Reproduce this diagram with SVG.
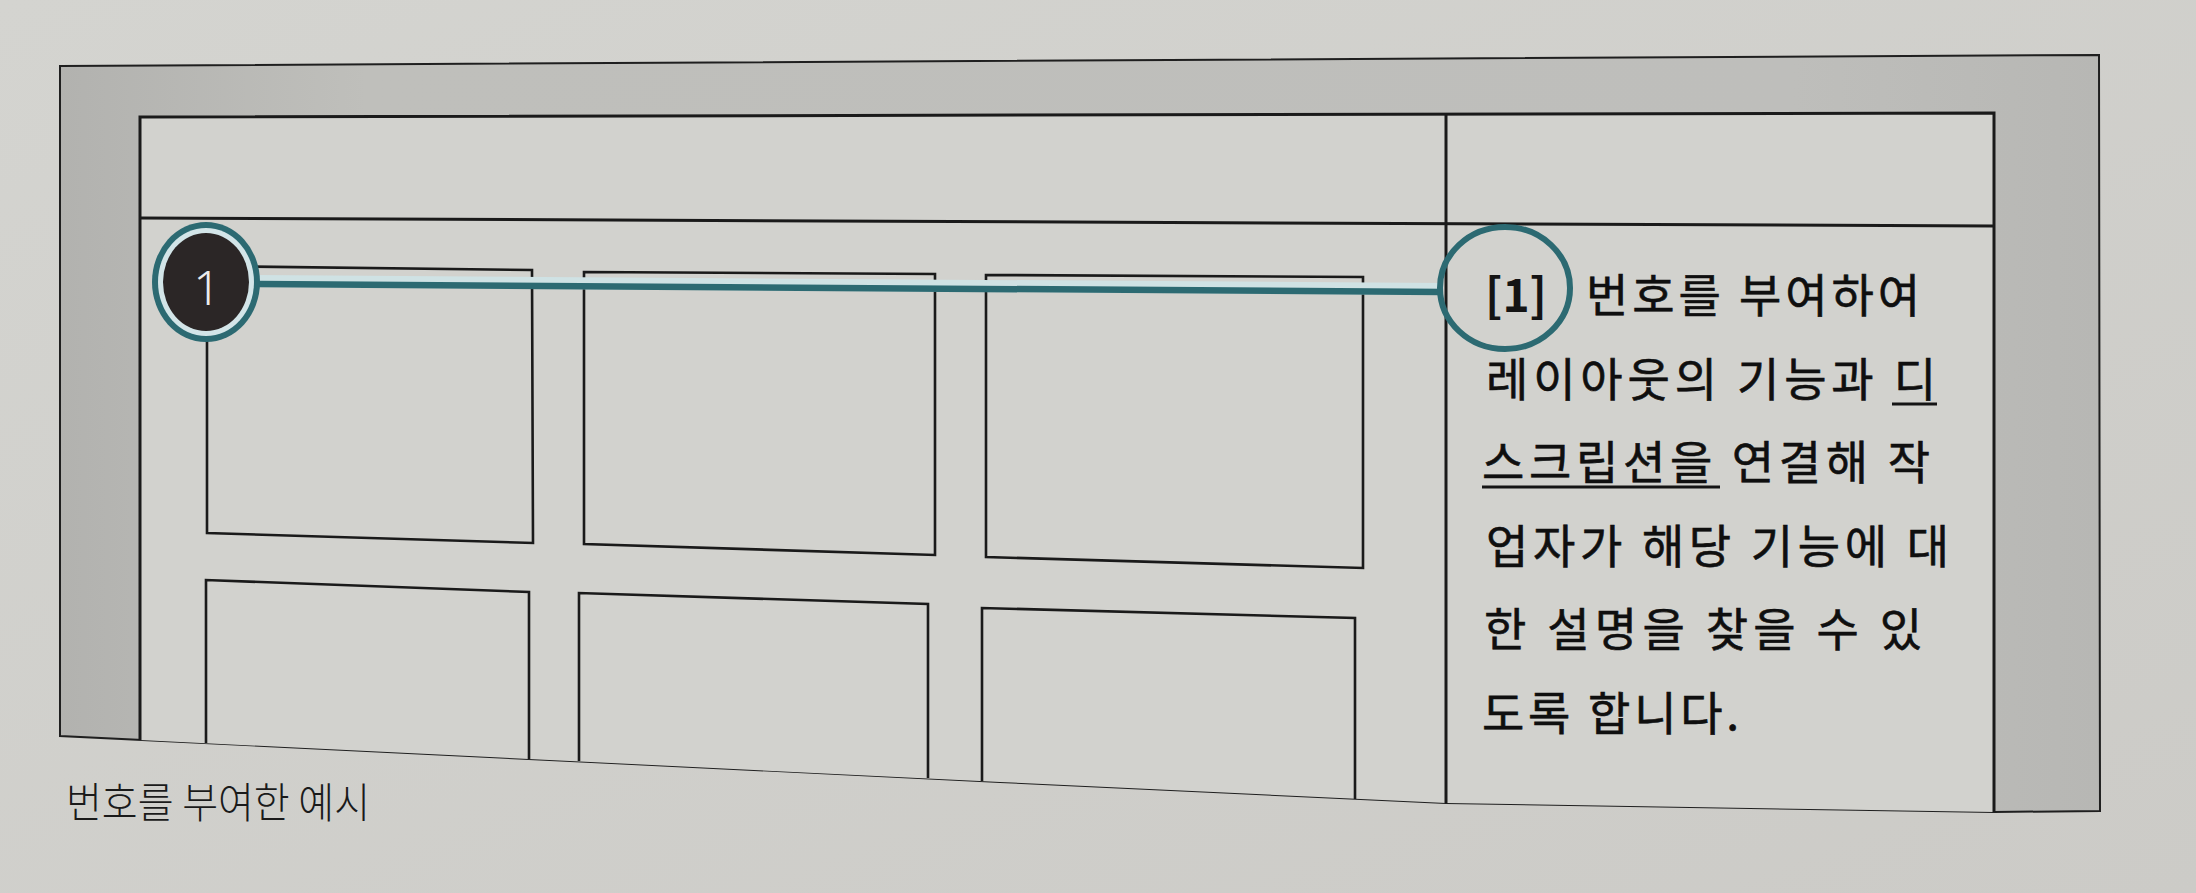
<svg xmlns="http://www.w3.org/2000/svg" width="2196" height="893" viewBox="0 0 2196 893">
  <defs>
    <linearGradient id="pageGrad" x1="0" y1="0" x2="1" y2="1">
      <stop offset="0" stop-color="#d4d4d0"/>
      <stop offset="1" stop-color="#cccbc7"/>
    </linearGradient>
    <linearGradient id="bandGrad" x1="0" y1="0" x2="1" y2="0">
      <stop offset="0" stop-color="#b2b2af"/>
      <stop offset="0.15" stop-color="#bfbfbb"/>
      <stop offset="0.85" stop-color="#bebebb"/>
      <stop offset="1" stop-color="#b7b7b4"/>
    </linearGradient>
  </defs>
  <style>
    .frame { fill: none; stroke: #1f1f1f; stroke-width: 2; stroke-linejoin: miter; }
    .line { fill: none; stroke: #1a1a1a; stroke-width: 3; }
    .box { fill: none; stroke: #1a1a1a; stroke-width: 2.6; stroke-linejoin: miter; }
    .desc { font-family: "Noto Sans CJK KR", "Noto Sans", sans-serif; font-size: 46px; font-weight: 400; fill: #0f0f0f; stroke: #0f0f0f; stroke-width: 0.6; }
    .desc-bold { font-family: "Noto Sans CJK KR", "Noto Sans", sans-serif; font-size: 46px; font-weight: 700; fill: #141414; }
    .uline { stroke: #141414; stroke-width: 3; }
    .caption { font-family: "Noto Sans CJK KR", "Noto Sans", sans-serif; font-size: 42px; font-weight: 300; fill: #1a1a1a; }
    .num { font-family: "Noto Sans", "DejaVu Sans", sans-serif; font-size: 48px; font-weight: 300; fill: #ececec; }
    .teal { stroke: #2c6a72; }
  </style>

  <!-- paper -->
  <rect x="0" y="0" width="2196" height="893" fill="url(#pageGrad)"/>

  <!-- outer gray frame -->
  <g id="page-frame">
    <polygon points="60,66 2099,55 2100,811 1994,812 1446,803 1000,782 60,736" fill="url(#bandGrad)"/>
    <polygon class="frame" points="60,66 2099,55 2100,811 1994,812 1446,803 1000,782 60,736"/>
  </g>

  <!-- inner layout frame -->
  <g id="layout">
    <polygon points="140,117 1994,113 1994,812 1446,803 1000,782 140,740" fill="#d2d2ce"/>
    <polyline class="line" points="140,740 140,117 1994,113 1994,812"/>
    <line id="header-row" class="line" x1="140" y1="218" x2="1994" y2="226"/>
    <line id="column-divider" class="line" x1="1446" y1="115" x2="1446" y2="803"/>
  </g>

  <!-- content boxes -->
  <g id="box-a"><polygon class="box" points="207,266 532,270 533,543 207,533"/></g>
  <g id="box-b"><polygon class="box" points="584,272 935,274 935,555 584,544"/></g>
  <g id="box-c"><polygon class="box" points="986,275 1363,277 1363,568 986,557"/></g>
  <g id="box-d"><polyline class="box" points="206,743 206,580 529,592 529,759"/></g>
  <g id="box-e"><polyline class="box" points="579,761 579,593 928,604 928,778"/></g>
  <g id="box-f"><polyline class="box" points="982,781 982,608 1355,618 1355,799"/></g>

  <!-- connector -->
  <g id="connectors">
    <line x1="258" y1="281" x2="1442" y2="289" stroke="#cfe2e4" stroke-width="12"/>
    <line class="teal" x1="258" y1="284" x2="1442" y2="292" stroke-width="6.5"/>
  </g>

  <!-- numbered marker -->
  <g id="marker-1">
    <ellipse cx="206" cy="282" rx="54" ry="60" fill="#2c6a72"/>
    <ellipse cx="206" cy="282" rx="48" ry="54" fill="#d3e5e8"/>
    <ellipse cx="206" cy="282" rx="43" ry="49" fill="#2b2626"/>
    <text class="num" x="207" y="305" text-anchor="middle">1</text>
  </g>

  <!-- callout circle on description -->
  <g id="callout-1">
    <ellipse class="teal" cx="1505" cy="288" rx="65" ry="61" fill="none" stroke-width="6"/>
  </g>

  <!-- description text -->
  <g id="description">
    <text class="desc-bold" x="1485" y="312">[1]</text>
    <text class="desc" x="1586" y="312" textLength="334" lengthAdjust="spacing">번호를 부여하여</text>
    <text class="desc" x="1486" y="396" textLength="450" lengthAdjust="spacing">레이아웃의 기능과 디</text>
    <text class="desc" x="1482" y="479" textLength="448" lengthAdjust="spacing">스크립션을 연결해 작</text>
    <text class="desc" x="1486" y="563" textLength="463" lengthAdjust="spacing">업자가 해당 기능에 대</text>
    <text class="desc" x="1484" y="646" textLength="438" lengthAdjust="spacing">한 설명을 찾을 수 있</text>
    <text class="desc" x="1482" y="730" textLength="257" lengthAdjust="spacing">도록 합니다.</text>
    <line class="uline" x1="1892" y1="404" x2="1937" y2="404"/>
    <line class="uline" x1="1482" y1="487" x2="1720" y2="487"/>
  </g>

  <!-- caption -->
  <g id="caption">
    <text class="caption" x="66" y="818" textLength="304" lengthAdjust="spacingAndGlyphs">번호를 부여한 예시</text>
  </g>
</svg>
